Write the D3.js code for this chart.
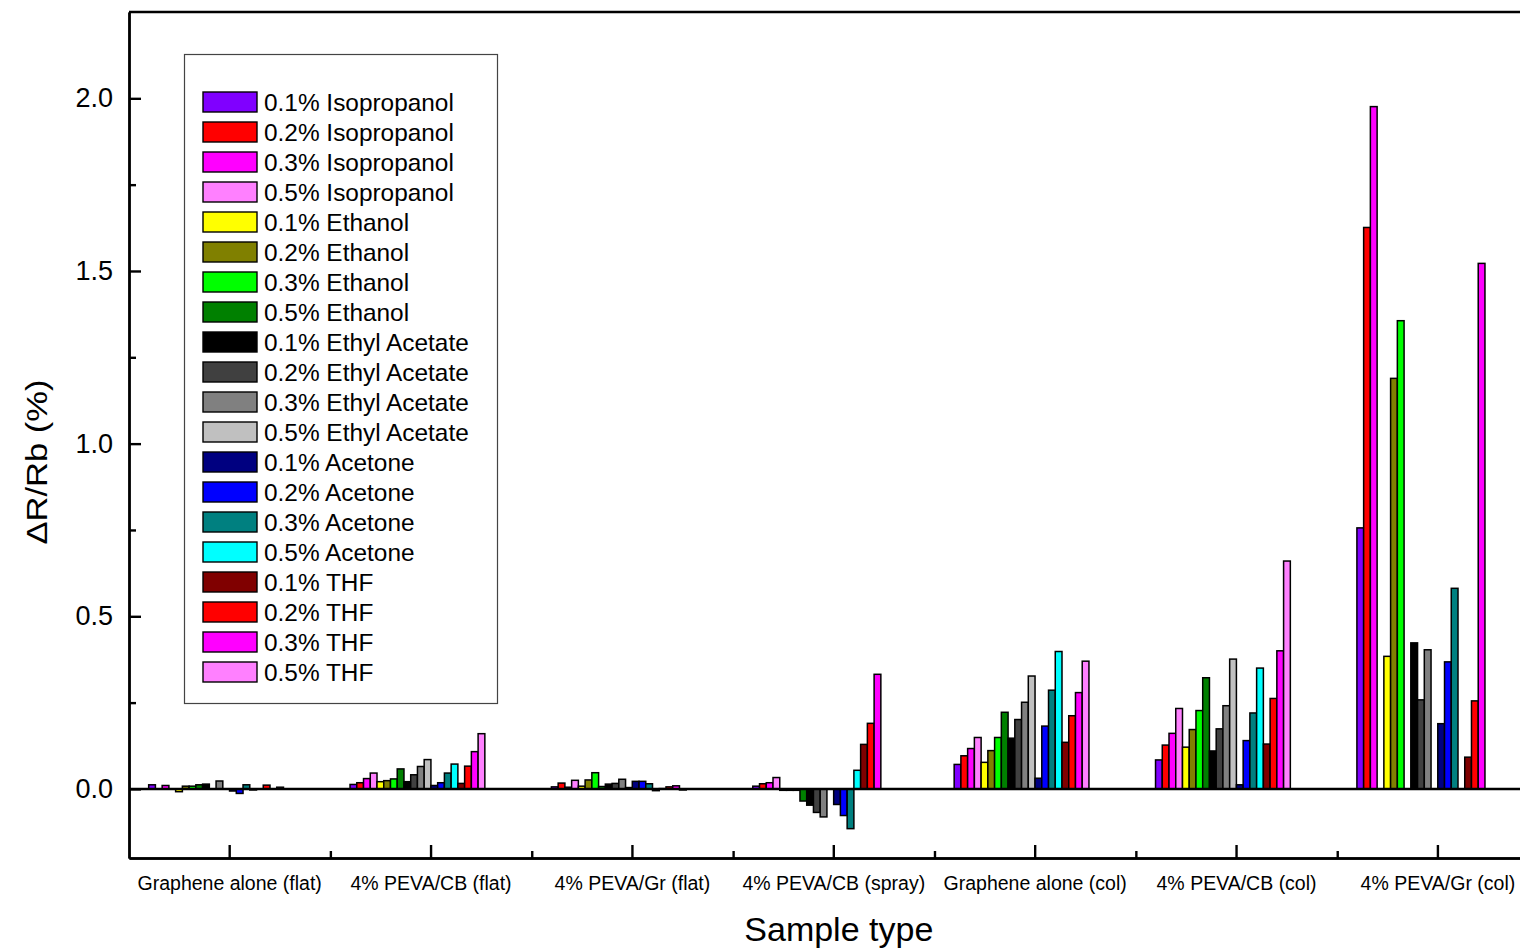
<!DOCTYPE html>
<html>
<head>
<meta charset="utf-8">
<script src="https://cdn.jsdelivr.net/npm/d3@7"></script>
<style>
    body { margin: 0; background: #ffffff; }
    svg text { font-family: "Liberation Sans", Arial, sans-serif; fill: #000; }
</style>
</head>
<body>
<svg id="SVG_CONTAINER" width="1520" height="949"></svg>
<script>
// sample types along x
const sampleTypes = ["Graphene alone (flat)", "4% PEVA/CB (flat)", "4% PEVA/Gr (flat)", "4% PEVA/CB (spray)",
    "Graphene alone (col)", "4% PEVA/CB (col)", "4% PEVA/Gr (col)"];

// one bar series per solvent/concentration
const seriesNames = ["0.1% Isopropanol", "0.2% Isopropanol", "0.3% Isopropanol", "0.5% Isopropanol",
    "0.1% Ethanol", "0.2% Ethanol", "0.3% Ethanol", "0.5% Ethanol",
    "0.1% Ethyl Acetate", "0.2% Ethyl Acetate", "0.3% Ethyl Acetate", "0.5% Ethyl Acetate",
    "0.1% Acetone", "0.2% Acetone", "0.3% Acetone", "0.5% Acetone",
    "0.1% THF", "0.2% THF", "0.3% THF", "0.5% THF"];

const seriesColours = ["#8000ff", "#ff0000", "#ff00ff", "#ff80ff",
    "#ffff00", "#808000", "#00ff00", "#008000",
    "#000000", "#404040", "#808080", "#c0c0c0",
    "#000080", "#0000ff", "#008080", "#00ffff",
    "#800000", "#ff0000", "#ff00ff", "#ff80ff"];

// dR/Rb (%) for each sample type, in series order (null = no bar)
const grapheneFlat = [0.012, null, 0.010, null, -0.008, 0.008, 0.008, 0.012, 0.014, null, 0.023, null,
    -0.006, -0.013, 0.012, -0.003, null, 0.011, null, 0.005];
const pevaCbFlat = [0.013, 0.018, 0.030, 0.046, 0.021, 0.024, 0.029, 0.058, 0.021, 0.041, 0.065, 0.085,
    0.010, 0.018, 0.046, 0.072, 0.016, 0.066, 0.108, 0.160];
const pevaGrFlat = [0.006, 0.017, 0.005, 0.025, 0.008, 0.026, 0.047, 0.007, 0.014, 0.016, 0.028, 0.004,
    0.022, 0.022, 0.015, -0.005, 0.001, 0.006, 0.009, -0.003];
const pevaCbSpray = [0.008, 0.015, 0.018, 0.033, -0.004, -0.004, -0.004, -0.035, -0.047, -0.068, -0.081, null,
    -0.045, -0.077, -0.115, 0.054, 0.129, 0.190, 0.332, null];
const grapheneCol = [0.071, 0.096, 0.117, 0.149, 0.077, 0.111, 0.149, 0.222, 0.147, 0.201, 0.251, 0.327,
    0.031, 0.182, 0.286, 0.398, 0.135, 0.212, 0.279, 0.370];
const pevaCbCol = [0.084, 0.127, 0.161, 0.233, 0.121, 0.172, 0.227, 0.322, 0.110, 0.174, 0.241, 0.376,
    0.012, 0.140, 0.220, 0.350, 0.130, 0.262, 0.400, 0.660];
const pevaGrCol = [0.756, 1.626, 1.976, null, 0.384, 1.189, 1.356, null, 0.423, 0.258, 0.403, null,
    0.189, 0.368, 0.581, null, 0.092, 0.255, 1.522, null];

const groupValues = [grapheneFlat, pevaCbFlat, pevaGrFlat, pevaCbSpray, grapheneCol, pevaCbCol, pevaGrCol];

const yMajorTicks = [0, 0.5, 1.0, 1.5, 2.0];
const yMinorTicks = [0.25, 0.75, 1.25, 1.75];

const MARGIN = {"LEFT": 129, "RIGHT": 1538.6, "TOP": 12, "BOTTOM": 858};

let svg = d3.select("#SVG_CONTAINER");
svg.append("rect").attr("width", 1520).attr("height", 949).attr("fill", "#ffffff");

//** SCALES *****************************************
let xScale = d3.scaleBand()
    .domain(sampleTypes)
    .range([MARGIN.LEFT, MARGIN.RIGHT])
    .padding(0);

let bw = xScale.bandwidth();
let xInner = d3.scaleBand()
    .domain(d3.range(seriesNames.length))
    .range([bw * 0.0977, bw * 0.0977 + 134.8])
    .padding(0);

let xMinor = d3.scaleLinear().domain([0, sampleTypes.length]).range([MARGIN.LEFT, MARGIN.RIGHT]);

let yScale = d3.scaleLinear()
    .domain([-0.2, 2.25])
    .range([MARGIN.BOTTOM, MARGIN.TOP]);

//** BARS *****************************************
let bars = svg.append("g").attr("class", "bars");
sampleTypes.forEach(function (name, g) {
    let items = groupValues[g]
        .map(function (v, i) { return {i: i, v: v}; })
        .filter(function (d) { return d.v !== null; });

    bars.append("g")
        .attr("transform", "translate(" + xScale(name) + ",0)")
        .selectAll("rect")
        .data(items)
        .enter()
        .append("rect")
        .attr("x", d => xInner(d.i))
        .attr("width", xInner.bandwidth())
        .attr("y", d => yScale(Math.max(d.v, 0)))
        .attr("height", d => Math.abs(yScale(d.v) - yScale(0)))
        .attr("fill", d => seriesColours[d.i])
        .attr("stroke", "#000")
        .attr("stroke-width", 1.5);
});

// zero line
svg.append("line")
    .attr("x1", MARGIN.LEFT).attr("x2", MARGIN.RIGHT)
    .attr("y1", yScale(0)).attr("y2", yScale(0))
    .attr("stroke", "#000").attr("stroke-width", 2.4);

//** AXES *****************************************
let yAxis = d3.axisLeft(yScale)
    .tickValues(yMajorTicks)
    .tickSize(-12)
    .tickSizeOuter(0)
    .tickPadding(16)
    .tickFormat(d3.format(".1f"));

let yG = svg.append("g")
    .attr("class", "y_axis")
    .attr("transform", "translate(" + MARGIN.LEFT + ",0)")
    .call(yAxis);
yG.selectAll("text").style("font-size", "27px");

svg.append("g")
    .attr("transform", "translate(" + MARGIN.LEFT + ",0)")
    .call(d3.axisLeft(yScale).tickValues(yMinorTicks).tickSize(-7).tickSizeOuter(0).tickFormat(""));

let xAxis = d3.axisBottom(xScale)
    .tickSize(-13)
    .tickSizeOuter(0)
    .tickPadding(18);

let xG = svg.append("g")
    .attr("class", "x_axis")
    .attr("transform", "translate(0," + MARGIN.BOTTOM + ")")
    .call(xAxis);
xG.selectAll("text").style("font-size", "19.5px");

svg.append("g")
    .attr("transform", "translate(0," + MARGIN.BOTTOM + ")")
    .call(d3.axisBottom(xMinor).tickValues(d3.range(1, sampleTypes.length)).tickSize(-7).tickSizeOuter(0).tickFormat(""));

svg.selectAll(".domain, .tick line").attr("stroke", "#000").attr("stroke-width", 2.4);

// top frame line
svg.append("line")
    .attr("x1", MARGIN.LEFT).attr("x2", MARGIN.RIGHT)
    .attr("y1", MARGIN.TOP).attr("y2", MARGIN.TOP)
    .attr("stroke", "#000").attr("stroke-width", 2.4);

// axis titles
svg.append("text")
    .attr("text-anchor", "middle")
    .attr("x", (MARGIN.LEFT + MARGIN.RIGHT) / 2 + 5)
    .attr("y", 941)
    .style("font-size", "34px")
    .text("Sample type");

svg.append("text")
    .attr("text-anchor", "middle")
    .attr("transform", "translate(47,462) rotate(-90)")
    .attr("textLength", 165)
    .attr("lengthAdjust", "spacingAndGlyphs")
    .style("font-size", "29px")
    .text("ΔR/Rb (%)");

//** LEGEND *****************************************
let legend = svg.append("g").attr("class", "legend");
legend.append("rect")
    .attr("x", 184.5).attr("y", 54.5)
    .attr("width", 313).attr("height", 649)
    .attr("fill", "none")
    .attr("stroke", "#444").attr("stroke-width", 1.2);

for (let i = 0; i < seriesNames.length; i++) {
    let yLegend = 92 + i * 30;
    legend.append("rect")
        .attr("x", 203).attr("y", yLegend)
        .attr("width", 54).attr("height", 20)
        .attr("fill", seriesColours[i])
        .attr("stroke", "#000").attr("stroke-width", 1.4);
    legend.append("text")
        .attr("x", 264)
        .attr("y", yLegend + 19)
        .style("font-size", "24.4px")
        .text(seriesNames[i]);
}
</script>
</body>
</html>
